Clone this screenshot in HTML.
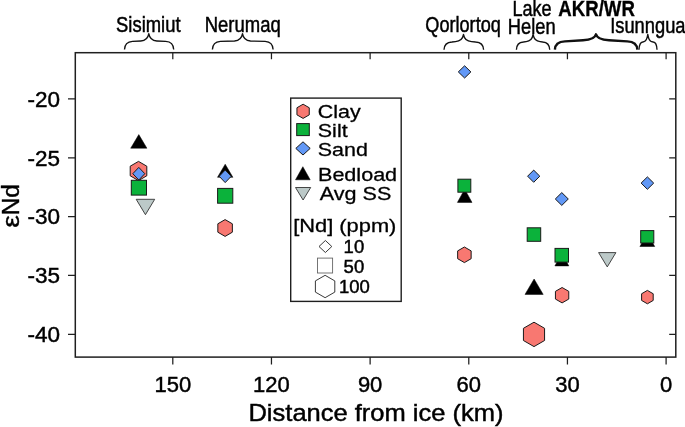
<!DOCTYPE html>
<html lang="en"><head><meta charset="utf-8"><title>εNd vs distance from ice</title>
<style>html,body{margin:0;padding:0;background:#fff;overflow:hidden}body{width:685px;height:427px}</style></head>
<body>
<svg width="685" height="427" viewBox="0 0 685 427" style="display:block;font-family:'Liberation Sans',Arial,sans-serif" shape-rendering="geometricPrecision">
<rect x="0" y="0" width="685" height="427" fill="#fff"/>
<path d="M666.10,357.1 v7.3 M666.10,52.7 v6.6 M567.44,357.1 v7.3 M567.44,52.7 v6.6 M468.78,357.1 v7.3 M468.78,52.7 v6.6 M370.12,357.1 v7.3 M370.12,52.7 v6.6 M271.46,357.1 v7.3 M271.46,52.7 v6.6 M172.80,357.1 v7.3 M172.80,52.7 v6.6 M75.3,98.90 h-7.3 M675.8,98.90 h-6.6 M75.3,157.75 h-7.3 M675.8,157.75 h-6.6 M75.3,216.60 h-7.3 M675.8,216.60 h-6.6 M75.3,275.45 h-7.3 M675.8,275.45 h-6.6 M75.3,334.30 h-7.3 M675.8,334.30 h-6.6" stroke="#1f1f1f" stroke-width="1.25" fill="none"/>
<rect x="75.3" y="52.7" width="600.50" height="304.40" fill="none" stroke="#1f1f1f" stroke-width="1.5"/>
<text transform="translate(666.10,392.00) scale(1.0,1)" font-size="22" text-anchor="middle" fill="#000" stroke="#000" stroke-width="0.45">0</text>
<text transform="translate(567.44,392.00) scale(1.0,1)" font-size="22" text-anchor="middle" fill="#000" stroke="#000" stroke-width="0.45">30</text>
<text transform="translate(468.78,392.00) scale(1.0,1)" font-size="22" text-anchor="middle" fill="#000" stroke="#000" stroke-width="0.45">60</text>
<text transform="translate(370.12,392.00) scale(1.0,1)" font-size="22" text-anchor="middle" fill="#000" stroke="#000" stroke-width="0.45">90</text>
<text transform="translate(271.46,392.00) scale(1.0,1)" font-size="22" text-anchor="middle" fill="#000" stroke="#000" stroke-width="0.45">120</text>
<text transform="translate(172.80,392.00) scale(1.0,1)" font-size="22" text-anchor="middle" fill="#000" stroke="#000" stroke-width="0.45">150</text>
<text transform="translate(60.00,106.70) scale(1.0,1)" font-size="22.5" text-anchor="end" fill="#000" stroke="#000" stroke-width="0.45">-20</text>
<text transform="translate(60.00,165.55) scale(1.0,1)" font-size="22.5" text-anchor="end" fill="#000" stroke="#000" stroke-width="0.45">-25</text>
<text transform="translate(60.00,224.40) scale(1.0,1)" font-size="22.5" text-anchor="end" fill="#000" stroke="#000" stroke-width="0.45">-30</text>
<text transform="translate(60.00,283.25) scale(1.0,1)" font-size="22.5" text-anchor="end" fill="#000" stroke="#000" stroke-width="0.45">-35</text>
<text transform="translate(60.00,342.10) scale(1.0,1)" font-size="22.5" text-anchor="end" fill="#000" stroke="#000" stroke-width="0.45">-40</text>
<text transform="translate(376.00,421.00) scale(1.05,1)" font-size="24.3" text-anchor="middle" fill="#000" stroke="#000" stroke-width="0.45">Distance from ice (km)</text>
<text transform="translate(18.6,215.3) rotate(-90) scale(1.04,1)" font-size="23.5" text-anchor="start" fill="#000" stroke="#000" stroke-width="0.4">Nd</text>
<text transform="translate(18.6,215.1) rotate(-90) scale(1.2,1)" font-size="23.5" text-anchor="end" fill="#000" stroke="#000" stroke-width="0.4">ε</text>
<text transform="translate(116.10,31.75) scale(0.811,1)" font-size="22.7" text-anchor="start" fill="#000" stroke="#000" stroke-width="0.5">Sisimiut</text>
<text transform="translate(204.70,31.75) scale(0.815,1)" font-size="22.7" text-anchor="start" fill="#000" stroke="#000" stroke-width="0.5">Nerumaq</text>
<text transform="translate(425.30,32.15) scale(0.799,1)" font-size="22.7" text-anchor="start" fill="#000" stroke="#000" stroke-width="0.5">Qorlortoq</text>
<text transform="translate(512.50,15.55) scale(0.796,1)" font-size="22.7" text-anchor="start" fill="#000" stroke="#000" stroke-width="0.5">Lake</text>
<text transform="translate(507.80,33.75) scale(0.807,1)" font-size="22.7" text-anchor="start" fill="#000" stroke="#000" stroke-width="0.5">Helen</text>
<text transform="translate(558.30,16.35) scale(0.821,1)" font-size="22.7" text-anchor="start" font-weight="bold" fill="#000" stroke="#000" stroke-width="0.35">AKR/WR</text>
<text transform="translate(610.20,32.65) scale(0.807,1)" font-size="22.7" text-anchor="start" fill="#000" stroke="#000" stroke-width="0.5">Isunngua</text>
<path d="M124.50,49.6 C124.70,44.00 127.30,41.70 132.50,41.40 L140.80,41.00 C145.60,40.70 148.00,38.80 148.80,33.7 C149.60,38.80 152.00,40.70 156.80,41.00 L165.70,41.40 C170.90,41.70 173.50,44.00 173.70,49.6" fill="none" stroke="#111" stroke-width="1.35" stroke-linejoin="round"/>
<path d="M212.40,49.6 C212.60,44.00 215.20,41.70 220.40,41.40 L234.50,41.00 C239.30,40.70 241.70,38.80 242.50,33.7 C243.30,38.80 245.70,40.70 250.50,41.00 L265.10,41.40 C270.30,41.70 272.90,44.00 273.10,49.6" fill="none" stroke="#111" stroke-width="1.35" stroke-linejoin="round"/>
<path d="M444.00,49.7 C444.20,44.60 446.80,42.30 452.00,42.00 L455.50,41.60 C460.30,41.30 462.70,39.40 463.50,34.4 C464.30,39.40 466.70,41.30 471.50,41.60 L475.60,42.00 C480.80,42.30 483.40,44.60 483.60,49.7" fill="none" stroke="#111" stroke-width="1.35" stroke-linejoin="round"/>
<path d="M516.40,49.7 C516.60,44.60 518.84,42.30 523.37,42.00 L526.13,41.60 C530.31,41.30 532.30,39.40 533.10,34.4 C533.90,39.40 535.89,41.30 540.07,41.60 L542.73,42.00 C547.26,42.30 549.50,44.60 549.70,49.7" fill="none" stroke="#111" stroke-width="1.35" stroke-linejoin="round"/>
<path d="M554.90,49.6 C555.10,44.00 558.40,41.70 564.90,41.40 L583.00,40.20 C590.80,39.90 595.20,38.00 596.00,34.3 C596.80,38.00 601.20,39.90 609.00,40.20 L627.30,41.40 C633.80,41.70 637.10,44.00 637.30,49.6" fill="none" stroke="#111" stroke-width="2.4" stroke-linejoin="round"/>
<path d="M639.00,49.7 C639.20,44.60 640.29,42.30 642.70,42.00 L644.10,41.60 C646.32,41.30 647.00,39.40 647.80,34.4 C648.60,39.40 649.28,41.30 651.50,41.60 L653.30,42.00 C655.71,42.30 656.80,44.60 657.00,49.7" fill="none" stroke="#111" stroke-width="1.35" stroke-linejoin="round"/>
<polygon points="138.80,134.60 146.90,148.20 130.70,148.20" fill="#000" stroke="#000" stroke-width="0.5"/>
<polygon points="225.20,164.20 232.90,177.30 217.50,177.30" fill="#000" stroke="#000" stroke-width="0.5"/>
<polygon points="464.70,189.20 472.00,202.40 457.40,202.40" fill="#000" stroke="#000" stroke-width="0.5"/>
<polygon points="534.10,279.00 543.20,294.40 525.00,294.40" fill="#000" stroke="#000" stroke-width="0.5"/>
<polygon points="561.85,253.00 568.80,265.90 554.90,265.90" fill="#000" stroke="#000" stroke-width="0.5"/>
<polygon points="647.30,233.30 654.70,246.50 639.90,246.50" fill="#000" stroke="#000" stroke-width="0.5"/>
<polygon points="138.50,161.40 130.19,166.20 130.19,175.80 138.50,180.60 146.81,175.80 146.81,166.20" fill="#f87871" stroke="#1a1a1a" stroke-width="1.0"/>
<polygon points="225.10,219.60 217.83,223.80 217.83,232.20 225.10,236.40 232.37,232.20 232.37,223.80" fill="#f87871" stroke="#1a1a1a" stroke-width="1.0"/>
<polygon points="464.40,247.00 457.65,250.90 457.65,258.70 464.40,262.60 471.15,258.70 471.15,250.90" fill="#f87871" stroke="#1a1a1a" stroke-width="1.0"/>
<polygon points="534.00,322.20 523.43,328.30 523.43,340.50 534.00,346.60 544.57,340.50 544.57,328.30" fill="#f87871" stroke="#1a1a1a" stroke-width="1.0"/>
<polygon points="562.10,287.50 555.43,291.35 555.43,299.05 562.10,302.90 568.77,299.05 568.77,291.35" fill="#f87871" stroke="#1a1a1a" stroke-width="1.0"/>
<polygon points="647.40,290.40 641.60,293.75 641.60,300.45 647.40,303.80 653.20,300.45 653.20,293.75" fill="#f87871" stroke="#1a1a1a" stroke-width="1.0"/>
<polygon points="138.80,167.40 144.80,173.70 138.80,180.00 132.80,173.70" fill="#6298f6" stroke="#1a1a1a" stroke-width="1.0"/>
<polygon points="225.20,170.00 231.20,176.30 225.20,182.60 219.20,176.30" fill="#6298f6" stroke="#1a1a1a" stroke-width="1.0"/>
<polygon points="464.60,65.80 470.90,71.90 464.60,78.00 458.30,71.90" fill="#6298f6" stroke="#1a1a1a" stroke-width="1.0"/>
<polygon points="533.70,170.10 539.80,176.20 533.70,182.30 527.60,176.20" fill="#6298f6" stroke="#1a1a1a" stroke-width="1.0"/>
<polygon points="561.80,192.60 568.30,199.00 561.80,205.40 555.30,199.00" fill="#6298f6" stroke="#1a1a1a" stroke-width="1.0"/>
<polygon points="647.40,176.90 653.70,183.10 647.40,189.30 641.10,183.10" fill="#6298f6" stroke="#1a1a1a" stroke-width="1.0"/>
<rect x="131.30" y="180.30" width="15.20" height="14.80" fill="#0bb23b" stroke="#1a1a1a" stroke-width="1.0"/>
<rect x="217.60" y="188.40" width="15.20" height="14.80" fill="#0bb23b" stroke="#1a1a1a" stroke-width="1.0"/>
<rect x="457.90" y="179.20" width="12.90" height="13.00" fill="#0bb23b" stroke="#1a1a1a" stroke-width="1.0"/>
<rect x="527.20" y="227.80" width="13.50" height="13.50" fill="#0bb23b" stroke="#1a1a1a" stroke-width="1.0"/>
<rect x="555.00" y="248.40" width="13.50" height="13.70" fill="#0bb23b" stroke="#1a1a1a" stroke-width="1.0"/>
<rect x="640.70" y="230.60" width="13.10" height="12.40" fill="#0bb23b" stroke="#1a1a1a" stroke-width="1.0"/>
<polygon points="145.45,214.70 154.70,199.30 136.20,199.30" fill="#bcc9c8" stroke="#333" stroke-width="0.9"/>
<polygon points="607.25,266.90 615.90,252.60 598.60,252.60" fill="#bcc9c8" stroke="#333" stroke-width="0.9"/>
<rect x="290.7" y="98.1" width="110.5" height="203.3" fill="#fff" stroke="#1f1f1f" stroke-width="1.4"/>
<polygon points="303.10,104.20 296.95,107.75 296.95,114.85 303.10,118.40 309.25,114.85 309.25,107.75" fill="#f87871" stroke="#1a1a1a" stroke-width="1.0"/>
<rect x="296.70" y="123.60" width="12.60" height="12.00" fill="#0bb23b" stroke="#1a1a1a" stroke-width="1.0"/>
<polygon points="303.00,141.80 310.20,148.40 303.00,155.00 295.80,148.40" fill="#6298f6" stroke="#1a1a1a" stroke-width="1.0"/>
<polygon points="302.85,166.70 310.20,179.80 295.50,179.80" fill="#000" stroke="#000" stroke-width="0.5"/>
<polygon points="303.10,200.00 310.70,187.50 295.50,187.50" fill="#bcc9c8" stroke="#333" stroke-width="0.9"/>
<text transform="translate(317.80,117.50) scale(1.13,1)" font-size="19.0" text-anchor="start" fill="#000" stroke="#000" stroke-width="0.3">Clay</text>
<text transform="translate(317.80,136.90) scale(1.13,1)" font-size="19.0" text-anchor="start" fill="#000" stroke="#000" stroke-width="0.3">Silt</text>
<text transform="translate(317.80,155.80) scale(1.13,1)" font-size="19.0" text-anchor="start" fill="#000" stroke="#000" stroke-width="0.3">Sand</text>
<text transform="translate(318.00,181.10) scale(1.135,1)" font-size="19.0" text-anchor="start" fill="#000" stroke="#000" stroke-width="0.3">Bedload</text>
<text transform="translate(319.80,200.20) scale(1.135,1)" font-size="19.0" text-anchor="start" fill="#000" stroke="#000" stroke-width="0.3">Avg SS</text>
<text transform="translate(293.20,232.00) scale(1.15,1)" font-size="19.0" text-anchor="start" fill="#000" stroke="#000" stroke-width="0.3">[Nd] (ppm)</text>
<text transform="translate(343.60,253.00) scale(1.0,1)" font-size="18.5" text-anchor="start" fill="#000" stroke="#000" stroke-width="0.45">10</text>
<text transform="translate(343.60,272.90) scale(1.0,1)" font-size="18.5" text-anchor="start" fill="#000" stroke="#000" stroke-width="0.45">50</text>
<text transform="translate(339.00,292.60) scale(1.0,1)" font-size="18.5" text-anchor="start" fill="#000" stroke="#000" stroke-width="0.45">100</text>
<polygon points="325.40,240.50 331.80,246.50 325.40,252.50 319.00,246.50" fill="#fff" stroke="#222" stroke-width="0.9"/>
<rect x="317.50" y="258.10" width="15.10" height="14.90" fill="#fff" stroke="#666" stroke-width="0.9"/>
<polygon points="325.10,275.30 315.40,280.90 315.40,292.10 325.10,297.70 334.80,292.10 334.80,280.90" fill="#fff" stroke="#222" stroke-width="0.9"/>
</svg>
</body></html>
